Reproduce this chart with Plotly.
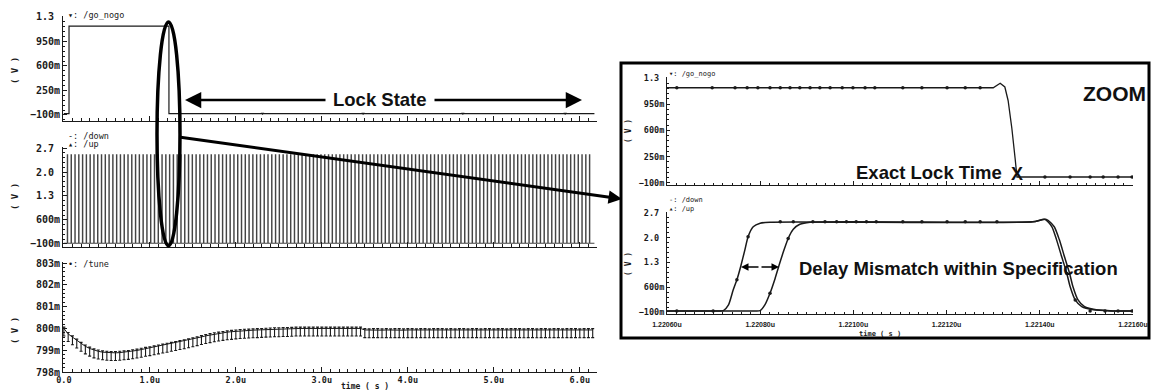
import numpy as np
import plotly.graph_objects as go

W, H = 1151, 391

# ---------------- data ----------------
# main window, time in microseconds
main_go_t = [0.0, 0.06, 0.06, 1.222, 1.222, 6.17]
main_go_v = [-0.08, -0.08, 1.17, 1.17, -0.08, -0.08]
main_go_mark_t = [2.31, 3.48, 4.64, 5.83]
main_go_mark_v = [-0.08, -0.08, -0.08, -0.08]

pulse_first_us = 0.04
pulse_period_us = 0.044
pulse_last_us = 6.15
pulse_width_us = 0.004
pulse_high_v = 2.5
pulse_low_v = -0.08

tune_step_us = 0.05
tune_mv = [
    800.00, 799.75, 799.60, 799.45, 799.30, 799.18, 799.08, 799.00, 798.95, 798.91,
    798.89, 798.88, 798.88, 798.89, 798.91, 798.93, 798.96, 798.99, 799.03, 799.07,
    799.10, 799.14, 799.18, 799.22, 799.26, 799.30, 799.34, 799.38, 799.42, 799.46,
    799.51, 799.56, 799.61, 799.66, 799.70, 799.74, 799.77, 799.80, 799.83, 799.85,
    799.87, 799.89, 799.90, 799.91, 799.92, 799.93, 799.94, 799.95, 799.96, 799.97,
    799.97, 799.98, 799.98, 799.99, 800.00, 800.00, 800.00, 800.00, 800.00, 800.00,
    800.00, 800.00, 800.00, 800.00, 800.00, 800.00, 800.00, 800.00, 800.00, 800.00,
    799.93, 799.92, 799.93, 799.93, 799.92, 799.93, 799.92, 799.93, 799.93, 799.92,
    799.93, 799.93, 799.92, 799.93, 799.93, 799.92, 799.93, 799.93, 799.93, 799.92,
    799.93, 799.92, 799.93, 799.93, 799.92, 799.93, 799.93, 799.92, 799.93, 799.93,
    799.92, 799.93, 799.93, 799.92, 799.93, 799.93, 799.93, 799.92, 799.93, 799.93,
    799.92, 799.93, 799.93, 799.92, 799.93, 799.93, 799.92, 799.93, 799.93, 799.93,
    799.92, 799.93, 799.93, 799.93,
]

main_x_ticks = [0, 1, 2, 3, 4, 5, 6]
main_x_labels = ["0.0", "1.0u", "2.0u", "3.0u", "4.0u", "5.0u", "6.0u"]
go_y_ticks = [-0.1, 0.25, 0.6, 0.95, 1.3]
go_y_labels = ["\u2212100m", "250m", "600m", "950m", "1.3\u00a0"]
ud_y_ticks = [-0.1, 0.6, 1.3, 2.0, 2.7]
ud_y_labels = ["\u2212100m", "600m", "1.3\u00a0", "2.0\u00a0", "2.7\u00a0"]
tune_y_ticks = [798, 799, 800, 801, 802, 803]
tune_y_labels = ["798m", "799m", "800m", "801m", "802m", "803m"]

# zoom window, time in nanoseconds
zoom_x_ticks = [1220.6, 1220.8, 1221.0, 1221.2, 1221.4, 1221.6]
zoom_x_labels = ["1.22060u", "1.22080u", "1.22100u", "1.22120u", "1.22140u", "1.22160u"]

zoom_go_t = [1220.600, 1221.300, 1221.315, 1221.325, 1221.332, 1221.340, 1221.347, 1221.351, 1221.600]
zoom_go_v = [1.17, 1.17, 1.23, 1.18, 1.00, 0.63, 0.23, -0.02, -0.02]
zoom_go_mark_t = [1220.621, 1220.697, 1220.746, 1220.772, 1220.795, 1220.821, 1220.843, 1220.864,
                  1220.885, 1220.907, 1220.928, 1220.950, 1220.976, 1220.999, 1221.025, 1221.046,
                  1221.106, 1221.147, 1221.201, 1221.240, 1221.272,
                  1221.411, 1221.465, 1221.508, 1221.536, 1221.568, 1221.598]
zoom_go_mark_v = [1.17] * 21 + [-0.02] * 6

zoom_down_t = [1220.600, 1220.710, 1220.721, 1220.732, 1220.742, 1220.750, 1220.758, 1220.767,
               1220.774, 1220.785, 1220.800, 1220.821, 1221.385, 1221.411, 1221.426, 1221.436,
               1221.447, 1221.458, 1221.465, 1221.476, 1221.490, 1221.515, 1221.551, 1221.600]
zoom_down_v = [-0.07, -0.07, -0.06, 0.10, 0.52, 0.81, 1.18, 1.65, 2.03, 2.31, 2.41, 2.44,
               2.45, 2.52, 2.31, 1.94, 1.46, 0.99, 0.62, 0.24, 0.05, -0.04, -0.07, -0.07]
zoom_up_t = [1220.600, 1220.790, 1220.800, 1220.810, 1220.821, 1220.832, 1220.840, 1220.851,
             1220.860, 1220.871, 1220.885, 1220.907, 1221.385, 1221.414, 1221.431, 1221.442,
             1221.453, 1221.464, 1221.471, 1221.482, 1221.496, 1221.521, 1221.557, 1221.600]
zoom_up_v = [-0.07, -0.07, -0.06, 0.10, 0.43, 0.85, 1.20, 1.65, 1.98, 2.24, 2.38, 2.44,
             2.45, 2.52, 2.31, 1.94, 1.46, 0.99, 0.62, 0.24, 0.05, -0.04, -0.07, -0.07]
zoom_ud_mark_t = [1220.621, 1220.699, 1220.750, 1220.774, 1220.821, 1220.860, 1220.843, 1220.871,
                  1220.913, 1220.939, 1220.964, 1220.985, 1221.006, 1221.028, 1221.049, 1221.106,
                  1221.147, 1221.201, 1221.240, 1221.272, 1221.308, 1221.458, 1221.476, 1221.508,
                  1221.540, 1221.568, 1221.598]
zoom_ud_mark_v = [-0.07, -0.07, 0.81, 2.03, 0.43, 1.98, 2.45, 2.45,
                  2.45, 2.45, 2.45, 2.45, 2.45, 2.45, 2.45, 2.45,
                  2.45, 2.45, 2.45, 2.45, 2.45, 0.99, 0.24, -0.07,
                  -0.07, -0.07, -0.07]

# ---------------- helpers ----------------
def px(x):
    return x / W


def py(y):
    return 1 - y / H


INK = "#1a1a1a"
MONO = "DejaVu Sans Mono"
SANS = "Liberation Sans"

# pulse waveform for /up,/down
pulse_times = np.arange(pulse_first_us, pulse_last_us, pulse_period_us)
pxs, pys = [0.0], [pulse_low_v]
for t in pulse_times:
    pxs += [t, t, t + pulse_width_us, t + pulse_width_us]
    pys += [pulse_low_v, pulse_high_v, pulse_high_v, pulse_low_v]
pxs.append(6.17)
pys.append(pulse_low_v)

tune_t = np.round(np.arange(len(tune_mv)) * tune_step_us, 3)

fig = go.Figure()
fig.add_trace(go.Scatter(x=main_go_t, y=main_go_v, mode="lines",
                         line=dict(color=INK, width=1.2), xaxis="x", yaxis="y"))
fig.add_trace(go.Scatter(x=main_go_mark_t, y=main_go_mark_v, mode="markers",
                         marker=dict(color=INK, size=3, symbol="triangle-down"), xaxis="x", yaxis="y"))
fig.add_trace(go.Scatter(x=pxs, y=pys, mode="lines",
                         line=dict(color="#444444", width=1.1), xaxis="x2", yaxis="y2"))
n = len(tune_mv)
fig.add_trace(go.Scatter(x=tune_t, y=tune_mv, mode="lines",
                         line=dict(color=INK, width=1),
                         error_y=dict(type="data", symmetric=False, array=[0.06] * n,
                                      arrayminus=[0.35] * n, thickness=1.1, width=1.5, color=INK),
                         xaxis="x3", yaxis="y3"))
fig.add_trace(go.Scatter(x=zoom_go_t, y=zoom_go_v, mode="lines",
                         line=dict(color=INK, width=1.3), xaxis="x4", yaxis="y4"))
fig.add_trace(go.Scatter(x=zoom_go_mark_t, y=zoom_go_mark_v, mode="markers",
                         marker=dict(color=INK, size=3.5), xaxis="x4", yaxis="y4"))
fig.add_trace(go.Scatter(x=zoom_down_t, y=zoom_down_v, mode="lines",
                         line=dict(color=INK, width=1.5, shape="spline", smoothing=0.6),
                         xaxis="x5", yaxis="y5"))
fig.add_trace(go.Scatter(x=zoom_up_t, y=zoom_up_v, mode="lines",
                         line=dict(color=INK, width=1.5, shape="spline", smoothing=0.6),
                         xaxis="x5", yaxis="y5"))
fig.add_trace(go.Scatter(x=zoom_ud_mark_t, y=zoom_ud_mark_v, mode="markers",
                         marker=dict(color=INK, size=3.5), xaxis="x5", yaxis="y5"))

base = dict(showline=True, linecolor=INK, linewidth=1, ticks="inside", tickcolor=INK,
            showgrid=False, zeroline=False, fixedrange=True, tickmode="array", automargin=False)
ytf = dict(family=MONO, size=10, color=INK, weight="bold")
ztf = dict(family=MONO, size=8.5, color=INK, weight="bold")


def xmain(anchor, labels):
    d = dict(base, domain=[px(63), px(597)], anchor=anchor, range=[-0.01, 6.2],
             tickvals=main_x_ticks, ticktext=main_x_labels, ticklen=5,
             showticklabels=labels, tickfont=dict(family=MONO, size=8.5, color=INK, weight="bold"),
             minor=dict(ticks="inside", ticklen=3, dtick=0.1, tick0=0, tickcolor=INK))
    return d


def xzoom(anchor, labels):
    return dict(base, domain=[px(667), px(1133)], anchor=anchor, range=[1220.6, 1221.6],
                tickvals=zoom_x_ticks, ticktext=zoom_x_labels, ticklen=4,
                showticklabels=labels, tickfont=dict(family=SANS, size=7, color=INK, weight="bold"),
                ticklabelstandoff=4,
                minor=dict(ticks="inside", ticklen=2, dtick=0.02, tick0=1220.6, tickcolor=INK))


fig.update_layout(
    width=W, height=H, autosize=False,
    margin=dict(l=0, r=0, t=0, b=0, pad=0, autoexpand=False),
    paper_bgcolor="white", plot_bgcolor="white", showlegend=False,
    xaxis=xmain("y", False),
    xaxis2=xmain("y2", False),
    xaxis3=xmain("y3", True),
    xaxis4=xzoom("y4", False),
    xaxis5=xzoom("y5", True),
    yaxis=dict(base, domain=[py(121), py(16)], anchor="x", range=[-0.186, 1.314],
               tickvals=go_y_ticks, ticktext=go_y_labels, ticklen=4, tickfont=ytf,
               minor=dict(ticks="inside", ticklen=2, dtick=0.07, tick0=-0.1, tickcolor=INK)),
    yaxis2=dict(base, domain=[py(247), py(147)], anchor="x2", range=[-0.19, 2.73],
                tickvals=ud_y_ticks, ticktext=ud_y_labels, ticklen=4, tickfont=ytf,
                minor=dict(ticks="inside", ticklen=2, dtick=0.14, tick0=-0.1, tickcolor=INK)),
    yaxis3=dict(base, domain=[py(372), py(262)], anchor="x3", range=[798, 803.05],
                tickvals=tune_y_ticks, ticktext=tune_y_labels, ticklen=4, tickfont=ytf,
                minor=dict(ticks="inside", ticklen=2, dtick=0.2, tick0=798, tickcolor=INK)),
    yaxis4=dict(base, domain=[py(185), py(77)], anchor="x4", range=[-0.127, 1.313],
                tickvals=go_y_ticks, ticktext=go_y_labels, ticklen=3, tickfont=ztf,
                minor=dict(ticks="inside", ticklen=2, dtick=0.07, tick0=-0.1, tickcolor=INK)),
    yaxis5=dict(base, domain=[py(314), py(212)], anchor="x5", range=[-0.157, 2.728],
                tickvals=ud_y_ticks, ticktext=ud_y_labels, ticklen=3, tickfont=ztf,
                minor=dict(ticks="inside", ticklen=2, dtick=0.14, tick0=-0.1, tickcolor=INK)),
)

ann = []


def txt(x, y, s, size, family=MONO, xanchor="left", angle=0, bold=False, color=INK):
    ann.append(dict(x=px(x), y=py(y), xref="paper", yref="paper", text=(f"<b>{s}</b>" if bold else s),
                    showarrow=False, xanchor=xanchor, yanchor="middle", textangle=angle,
                    font=dict(family=family, size=size, color=color)))


def arrow(hx, hy, tx, ty, width, size=1.0, head=2):
    ann.append(dict(x=px(hx), y=py(hy), xref="paper", yref="paper", text="",
                    showarrow=True, ax=tx - hx, ay=ty - hy, arrowhead=head,
                    arrowsize=size, arrowwidth=width, arrowcolor="black"))


# main window labels
txt(66, 15, "\u25be: /go_nogo", 8.5)
txt(66, 136, "-: /down", 8.5)
txt(66, 144, "\u25b4: /up", 8.5)
txt(66, 264, "\u2022: /tune", 8.5)
for yy in (70, 196, 330):
    txt(15, yy, "( V )", 9, xanchor="center", angle=-90, bold=True)
txt(365, 386, "time ( s )", 8, xanchor="center", bold=True)

# zoom window labels
txt(667, 74, "\u25be: /go_nogo", 7)
txt(667, 200, "-: /down", 7)
txt(667, 209, "\u25b4: /up", 7)
txt(628, 131, "( V )", 8, xanchor="center", angle=-90, bold=True)
txt(628, 264, "( V )", 8, xanchor="center", angle=-90, bold=True)
txt(880, 334, "time ( s )", 7, xanchor="center", bold=True)

# callouts
txt(380, 100, "Lock State", 18.5, family=SANS, xanchor="center", bold=True, color="#111")
arrow(185, 100, 327, 100, 2.5, 1.3)
arrow(582, 100, 433, 100, 2.5, 1.3)
arrow(622, 199, 179, 137, 3, 0.9)
txt(1114, 93, "ZOOM", 21, family=SANS, xanchor="center", bold=True, color="#111")
txt(1004, 172, "Exact Lock Time", 18.5, family=SANS, xanchor="right", bold=True, color="#111")
txt(1017, 174, "X", 18, family=SANS, xanchor="center", bold=True, color="#111")
txt(797, 268, "Delay Mismatch within Specification", 18.5, family=SANS, bold=True, color="#111")
arrow(741, 267, 760, 267, 1.5, 1.0)
arrow(779, 267, 760, 267, 1.5, 1.0)

fig.update_layout(annotations=ann)

fig.update_layout(shapes=[
    dict(type="circle", xref="paper", yref="paper", x0=px(157), x1=px(180), y0=py(246), y1=py(22),
         line=dict(color="black", width=3.5)),
    dict(type="rect", xref="paper", yref="paper", x0=px(621), x1=px(1149), y0=py(338), y1=py(63),
         line=dict(color="black", width=3)),
])

fig.write_html("out.html",
               config={"displayModeBar": False},
               post_script="document.body.style.margin='0';document.body.style.padding='0';"
                           "document.body.style.overflow='hidden';")
